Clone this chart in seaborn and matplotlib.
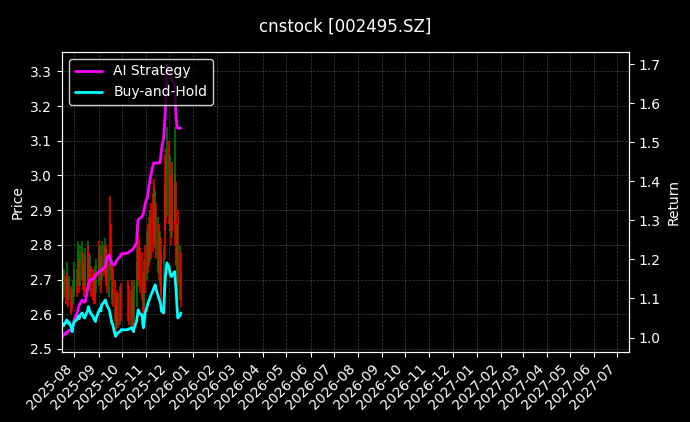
import numpy as np
import pandas as pd
import matplotlib
matplotlib.use("Agg")
import matplotlib.pyplot as plt
import matplotlib.dates as mdates
import seaborn as sns

# trading days (Oct 1-8 holiday skipped)
DATES = pd.to_datetime(
    ["2025-07-16", "2025-07-17", "2025-07-18", "2025-07-21", "2025-07-22", "2025-07-23",
     "2025-07-24", "2025-07-25", "2025-07-28", "2025-07-29", "2025-07-30", "2025-07-31"]
    + [d.strftime("%Y-%m-%d") for d in pd.bdate_range("2025-08-01", "2025-09-30")]
    + [d.strftime("%Y-%m-%d") for d in pd.bdate_range("2025-10-09", "2025-12-16")]
)

# daily low / high of the price bars, 1 = up day (green), 0 = down day (red)
PRICE_LOW = [
    2.62, 2.64, 2.65, 2.63, 2.66, 2.64, 2.62, 2.64, 2.60, 2.61, 2.63, 2.65,
    2.66, 2.65, 2.68, 2.70, 2.66, 2.68, 2.70, 2.67, 2.65, 2.66, 2.68, 2.70, 2.69, 2.67,
    2.66, 2.65, 2.64, 2.63, 2.64, 2.63, 2.66,
    2.68, 2.70, 2.69, 2.66, 2.70, 2.71, 2.72, 2.70, 2.68, 2.66, 2.65, 2.73, 2.70, 2.63,
    2.62, 2.58, 2.55, 2.56, 2.57, 2.56, 2.57, 2.58,
    2.58, 2.57, 2.56, 2.58, 2.57, 2.56, 2.58, 2.62, 2.66, 2.70, 2.68, 2.66, 2.64, 2.60,
    2.58, 2.62, 2.66,
    2.70, 2.72, 2.74, 2.75, 2.76, 2.78, 2.80, 2.81, 2.79, 2.76, 2.72, 2.70, 2.68, 2.66,
    2.64, 2.66, 2.76, 2.84, 2.86, 2.88,
    2.86, 2.84, 2.80, 2.82, 2.84, 2.80, 2.87, 2.74, 2.66, 2.68, 2.64, 2.62,
]
PRICE_HIGH = [
    2.70, 2.72, 2.73, 2.71, 2.75, 2.72, 2.70, 2.71, 2.68, 2.67, 2.70, 2.73,
    2.75, 2.73, 2.78, 2.81, 2.76, 2.80, 2.81, 2.78, 2.75, 2.77, 2.79, 2.81, 2.80, 2.78,
    2.77, 2.74, 2.73, 2.72, 2.74, 2.72, 2.76,
    2.79, 2.81, 2.80, 2.77, 2.81, 2.80, 2.82, 2.80, 2.79, 2.77, 2.76, 2.94, 2.86, 2.76,
    2.74, 2.70, 2.64, 2.66, 2.67, 2.66, 2.68, 2.69,
    2.70, 2.68, 2.67, 2.70, 2.68, 2.66, 2.70, 2.75, 2.80, 2.85, 2.82, 2.79, 2.78, 2.72,
    2.70, 2.76, 2.80,
    2.84, 2.86, 2.88, 2.90, 2.92, 2.95, 2.97, 2.99, 2.96, 2.92, 2.88, 2.86, 2.84, 2.82,
    2.78, 2.80, 2.97, 3.06, 3.08, 3.14,
    3.10, 3.06, 3.00, 3.02, 3.04, 3.00, 3.14, 2.98, 2.86, 2.90, 2.80, 2.78,
]
UP_DAY = [
    0, 1, 1, 0, 1, 0, 0, 1, 0, 0, 1, 1,
    1, 0, 1, 1, 0, 1, 1, 0, 0, 0, 1, 1, 0, 0,
    1, 0, 0, 0, 1, 0, 1,
    1, 0, 1, 0, 1, 0, 1, 0, 0, 0, 1, 0, 0, 1,
    0, 0, 0, 1, 0, 0, 1, 0,
    0, 0, 1, 0, 0, 0, 1, 1, 1, 0, 0, 0, 0, 0,
    0, 1, 0,
    1, 0, 0, 1, 0, 0, 0, 0, 1, 0, 1, 0, 1, 0,
    0, 1, 0, 0, 0, 1,
    0, 1, 0, 1, 0, 0, 1, 0, 1, 0, 1, 0,
]

# cumulative returns
AI_STRATEGY = [
    1.000, 1.003, 1.006, 1.012, 1.010, 1.014, 1.016, 1.018, 1.020, 1.020, 1.030, 1.040,
    1.048, 1.060, 1.066, 1.074, 1.084, 1.086, 1.096, 1.094, 1.092, 1.090, 1.092, 1.125,
    1.140, 1.142, 1.145, 1.148, 1.150, 1.152, 1.154, 1.155, 1.160,
    1.168, 1.168, 1.170, 1.170, 1.173, 1.178, 1.180, 1.181, 1.195, 1.205, 1.212, 1.200,
    1.194, 1.191, 1.188, 1.186, 1.190, 1.196, 1.199, 1.202, 1.208, 1.214,
    1.216, 1.219, 1.222, 1.224, 1.226, 1.229, 1.232, 1.242, 1.283, 1.301, 1.303, 1.305,
    1.309, 1.314, 1.319, 1.330, 1.342,
    1.360, 1.375, 1.390, 1.400, 1.411, 1.440, 1.447, 1.447, 1.447, 1.447, 1.447, 1.447,
    1.447, 1.460, 1.480, 1.513, 1.545, 1.582, 1.640, 1.695,
    1.690, 1.680, 1.670, 1.660, 1.655, 1.651, 1.600, 1.560, 1.539, 1.536, 1.536, 1.536,
]
BUY_AND_HOLD = [
    1.028, 1.035, 1.030, 1.041, 1.045, 1.040, 1.036, 1.040, 1.025, 1.015, 1.028, 1.036,
    1.041, 1.045, 1.050, 1.054, 1.048, 1.057, 1.063, 1.060, 1.052, 1.050, 1.054, 1.070,
    1.079, 1.072, 1.066, 1.062, 1.054, 1.048, 1.045, 1.041, 1.050,
    1.066, 1.070, 1.074, 1.068, 1.084, 1.090, 1.094, 1.096, 1.088, 1.082, 1.070, 1.060,
    1.050, 1.038, 1.035, 1.010, 1.003, 1.006, 1.010, 1.012, 1.016, 1.020,
    1.020, 1.022, 1.024, 1.025, 1.020, 1.015, 1.025, 1.042, 1.055, 1.071, 1.066, 1.062,
    1.058, 1.035, 1.025, 1.045, 1.063,
    1.082, 1.089, 1.095, 1.100, 1.106, 1.120, 1.126, 1.130, 1.135, 1.125, 1.105, 1.098,
    1.094, 1.085, 1.068, 1.063, 1.120, 1.153, 1.170, 1.191,
    1.180, 1.165, 1.158, 1.156, 1.160, 1.169, 1.140, 1.118, 1.080, 1.050, 1.056, 1.063,
]

plt.style.use("dark_background")
sns.set_style("dark", {"axes.facecolor": "black", "figure.facecolor": "black",
                       "axes.edgecolor": "white", "text.color": "white",
                       "xtick.color": "white", "ytick.color": "white",
                       "axes.labelcolor": "white",
                       "xtick.bottom": True, "ytick.left": True})
plt.rcParams["font.family"] = ["DejaVu Sans"]

fig, ax = plt.subplots(figsize=(6.9, 4.22), dpi=100)
fig.subplots_adjust(left=0.0899, right=0.9116, top=0.8768, bottom=0.1659)

bar_colors = ["#008000" if u else "#ff0000" for u in UP_DAY]
ax.vlines(DATES, PRICE_LOW, PRICE_HIGH, colors=bar_colors, linewidth=1.1)
ax.set_ylim(2.491, 3.356)
ax.set_ylabel("Price", fontsize=10)
ax.grid(True, linestyle="--", linewidth=0.5, color="gray", alpha=0.5)

ax2 = ax.twinx()
sns.lineplot(x=DATES, y=AI_STRATEGY, ax=ax2, color="#ff00ff", linewidth=2,
             label="AI Strategy")
sns.lineplot(x=DATES, y=BUY_AND_HOLD, ax=ax2, color="#00ffff", linewidth=2,
             label="Buy-and-Hold")
ax2.set_ylim(0.963, 1.731)
ax2.set_ylabel("Return", fontsize=10)
ax2.legend(loc="upper left", facecolor="black", edgecolor="white", fontsize=10)

ax.set_xlim(pd.Timestamp("2025-07-16"), pd.Timestamp("2027-07-16"))
ax.xaxis.set_major_locator(mdates.MonthLocator())
ax.xaxis.set_major_formatter(mdates.DateFormatter("%Y-%m"))
plt.setp(ax.get_xticklabels(), rotation=45, ha="right")
ax.tick_params(labelsize=10)
ax2.tick_params(labelsize=10)
for a in (ax, ax2):
    for s in a.spines.values():
        s.set_color("white")

fig.suptitle("cnstock [002495.SZ]", fontsize=12, y=0.957)
fig.savefig("out.png", dpi=100, facecolor="black")
